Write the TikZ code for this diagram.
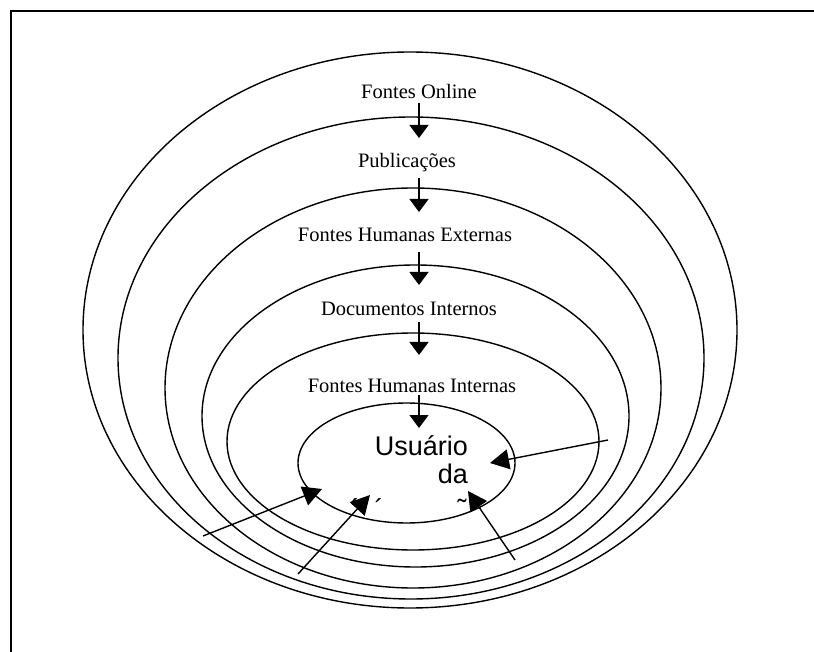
\documentclass[tikz,border=0pt]{standalone}
\usepackage{fontspec}
\setmainfont{Liberation Serif}
\newfontfamily\arialf{Liberation Sans}
\usetikzlibrary{arrows.meta}
\begin{document}
\begin{tikzpicture}[x=1pt,y=-1pt,
  ring/.style={line width=1.4pt},
  lbl/.style={font=\fontsize{20.5}{24}\selectfont, inner sep=0pt, anchor=base},
  usr/.style={font=\arialf\fontsize{27}{30}\selectfont, inner sep=0pt, anchor=base east},
  frag/.style={font=\arialf\fontsize{27}{30}\selectfont, inner sep=0pt, anchor=base},
  varr/.style={line width=1.4pt, -{Triangle[length=13pt,width=19pt]}},
  darr/.style={line width=1.4pt, -{Triangle[length=19pt,width=20pt]}},
]
\useasboundingbox (0,0) rectangle (814,652);
\clip (0,0) rectangle (814,652);
\fill[white] (0,0) rectangle (814,652);
\draw[line width=1.2pt] (11,11) rectangle (840,680);

% nested ellipses
\draw[ring] (410,330) ellipse [x radius=327pt, y radius=278pt];
\draw[ring] (411,358) ellipse [x radius=293pt, y radius=241pt];
\draw[ring] (413,388) ellipse [x radius=248pt, y radius=200pt];
\draw[ring] (415.5,416) ellipse [x radius=213.5pt, y radius=151pt];
\draw[ring] (413,441.5) ellipse [x radius=186pt, y radius=108.5pt];
\draw[ring] (406.5,463) ellipse [x radius=108.5pt, y radius=60pt];

% labels
\node[lbl] (fo)  at (419,99)  {Fontes Online};
\node[lbl] (pub) at (407,168) {Publicações};
\node[lbl] (fhe) at (405,242) {Fontes Humanas Externas};
\node[lbl] (di)  at (409,316) {Documentos Internos};
\node[lbl] (fhi) at (412,392) {Fontes Humanas Internas};
\node[usr] (u1) at (468,455) {Usuário};
\node[usr] (u2) at (468,483) {da};
\node[frag] (m1) at (355,518) {´};
\node[frag] (m2) at (379,518) {´};
\node[frag] (m3) at (462,518) {˜};

% vertical arrows
\coordinate (s1) at (419,103); \coordinate (t1) at (419,138);
\coordinate (s2) at (419,178); \coordinate (t2) at (419,212);
\coordinate (s3) at (419,252); \coordinate (t3) at (419,285);
\coordinate (s4) at (419,322); \coordinate (t4) at (419,355);
\coordinate (s5) at (419,395); \coordinate (t5) at (419,428);
\draw[varr] (s1) -- (t1);
\draw[varr] (s2) -- (t2);
\draw[varr] (s3) -- (t3);
\draw[varr] (s4) -- (t4);
\draw[varr] (s5) -- (t5);

% diagonal arrows
\coordinate (r0) at (608,440); \coordinate (r1) at (490,463);
\coordinate (l0) at (203,536); \coordinate (l1) at (322,489);
\coordinate (b0) at (298,574); \coordinate (b1) at (370,495);
\coordinate (c0) at (515,560); \coordinate (c1) at (468,491);
\draw[darr] (r0) -- (r1);
\draw[darr] (l0) -- (l1);
\draw[darr] (b0) -- (b1);
\draw[darr] (c0) -- (c1);
\end{tikzpicture}
\end{document}
